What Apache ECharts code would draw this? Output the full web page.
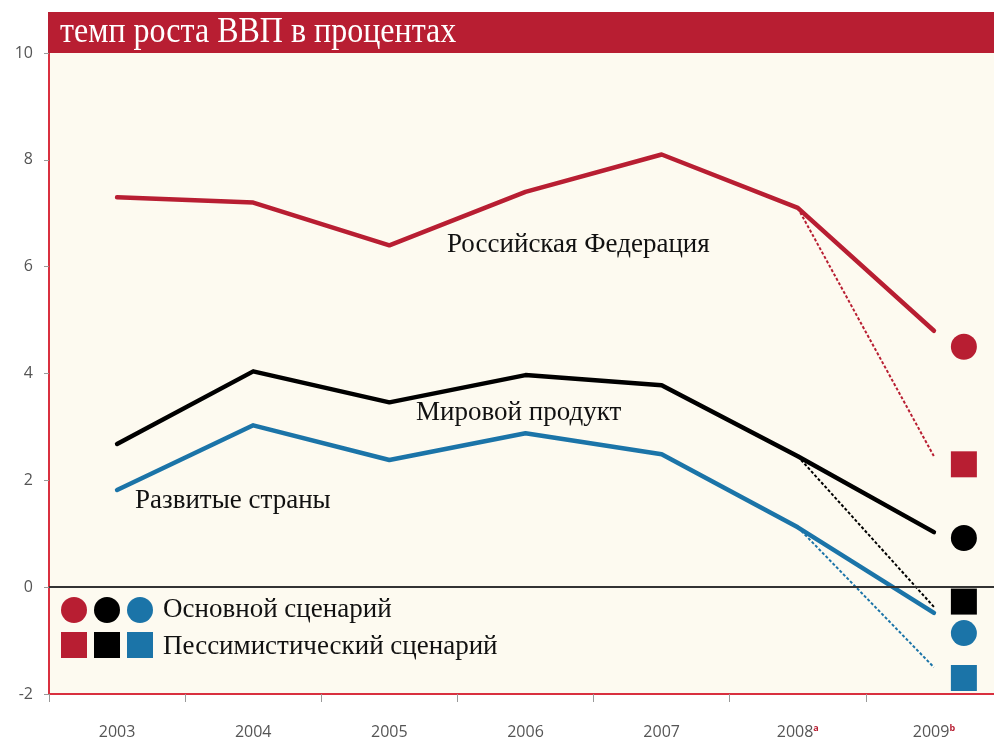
<!DOCTYPE html>
<html>
<head>
<meta charset="utf-8">
<script src="https://cdn.jsdelivr.net/npm/echarts@6/dist/echarts.min.js"></script>
<style>
  html, body { margin: 0; padding: 0; background: #fff; overflow: hidden; }
  /* plot area runs past the right edge of the window, as in the original */
  #chart { width: 1002px; height: 740px; }
</style>
</head>
<body>
<div id="chart"></div>
<script>
// data
const years = ["2003", "2004", "2005", "2006", "2007", "2008", "2009"];
const yearNotes = { "2008": "a", "2009": "b" };
const russia = [7.3, 7.2, 6.4, 7.4, 8.1, 7.1, 4.8];
const world = [2.68, 4.04, 3.46, 3.97, 3.78, 2.45, 1.03];
const developed = [1.82, 3.03, 2.38, 2.88, 2.49, 1.12, -0.48];
// pessimistic path 2008 -> 2009
const russiaPess = [7.1, 2.45];
const worldPess = [2.45, -0.37];
const developedPess = [1.12, -1.5];
// scenario markers: russia, world, developed
const baseCase = [4.5, 0.92, -0.86];
const pessCase = [2.3, -0.27, -1.7];
const yMin = -2, yMax = 10, yStep = 2;

const RED = "#b81e32";
const BLACK = "#000000";
const BLUE = "#1b74a8";
const colors = [RED, BLACK, BLUE];
const serif = "'Liberation Serif', 'DejaVu Serif', serif";
const markerX = 2009.22;

const chart = echarts.init(document.getElementById("chart"));

const pts = (vals) => vals.map((v, i) => [Number(years[i]), v]);
const pessPts = (vals) => vals.map((v, i) => [Number(years[years.length - 2 + i]), v]);

const solid = (name, vals, color, extra) =>
  Object.assign({
    name, type: "line", xAxisIndex: 1, data: pts(vals), symbol: "none",
    lineStyle: { color, width: 4.5, cap: "round", join: "round" }, z: 3,
  }, extra || {});

const dashed = (name, vals, color) => ({
  name, type: "line", xAxisIndex: 1, data: pessPts(vals), symbol: "none",
  lineStyle: { color, width: 2, type: [3, 2] }, z: 3,
});

const markers = (vals, symbol, size) =>
  vals.map((v, i) => ({
    type: "scatter", xAxisIndex: 1, data: [[markerX, v]], symbol, symbolSize: size,
    itemStyle: { color: colors[i], opacity: 1 }, z: 4,
  }));

const legendItems = [];
colors.forEach((c, i) => {
  const cx = 74 + i * 33;
  legendItems.push({ type: "circle", shape: { cx, cy: 610, r: 13 }, style: { fill: c }, z: 10 });
  legendItems.push({ type: "rect", shape: { x: cx - 13, y: 632, width: 26, height: 26 }, style: { fill: c }, z: 10 });
});

const label = (text, x, y) => ({
  type: "text", x, y, z: 10,
  style: { text, font: "27px " + serif, fill: "#111", verticalAlign: "middle" },
});

chart.setOption({
  animation: false,
  backgroundColor: "#ffffff",
  grid: {
    left: 49, top: 53, bottom: 46, right: 0,
    show: true, backgroundColor: "#fdfaf0", borderWidth: 0,
  },
  xAxis: [
    {
      type: "category", data: years, boundaryGap: true,
      axisLine: { onZero: false, lineStyle: { color: "#d9303f", width: 2 } },
      axisTick: { show: true, length: 8, lineStyle: { color: "#999", width: 1 } },
      axisLabel: {
        margin: 30,
        formatter: (v) => yearNotes[v] ? `{y|${v}}{s|${yearNotes[v]}}` : `{y|${v}}`,
        rich: {
          y: { fontFamily: "'Open Sans', sans-serif", fontSize: 16, color: "#555" },
          s: { fontFamily: "'Open Sans', sans-serif", fontSize: 9, color: RED, fontWeight: "bold", verticalAlign: "top" },
        },
      },
      splitLine: { show: false },
    },
    { type: "value", min: 2002.5, max: 2009.5, show: false },
  ],
  yAxis: {
    type: "value", min: yMin, max: yMax, interval: yStep,
    axisLine: { show: true, lineStyle: { color: "#d9303f", width: 2 } },
    axisTick: { show: true, length: 5, lineStyle: { color: "#999" } },
    axisLabel: { margin: 16, fontFamily: "'Open Sans', sans-serif", fontSize: 16, color: "#555" },
    splitLine: { show: false },
  },
  series: [
    solid("Российская Федерация", russia, RED, {
      z: 2,
      markLine: {
        silent: true, symbol: "none", label: { show: false },
        lineStyle: { color: "#333", width: 2, type: "solid" },
        data: [{ yAxis: 0 }],
      },
    }),
    solid("Мировой продукт", world, BLACK),
    solid("Развитые страны", developed, BLUE),
    dashed("Россия пессим.", russiaPess, RED),
    dashed("Мир пессим.", worldPess, BLACK),
    dashed("Развитые пессим.", developedPess, BLUE),
    ...markers(baseCase, "circle", 26),
    ...markers(pessCase, "rect", 26),
  ],
  graphic: [
    { type: "rect", shape: { x: 48, y: 12, width: 960, height: 41 }, style: { fill: RED }, z: 10 },
    {
      type: "text", x: 60, y: 33, z: 11, scaleY: 1.12,
      style: { text: "темп роста ВВП в процентах", font: "32px " + serif, fill: "#fff", verticalAlign: "middle" },
    },
    label("Российская Федерация", 447, 245),
    label("Мировой продукт", 416, 413),
    label("Развитые страны", 135, 501),
    ...legendItems,
    {
      type: "text", x: 163, y: 610, z: 10,
      style: { text: "Основной сценарий", font: "27px " + serif, fill: "#111", verticalAlign: "middle" },
    },
    {
      type: "text", x: 163, y: 647, z: 10,
      style: { text: "Пессимистический сценарий", font: "27px " + serif, fill: "#111", verticalAlign: "middle" },
    },
  ],
});
</script>
</body>
</html>
